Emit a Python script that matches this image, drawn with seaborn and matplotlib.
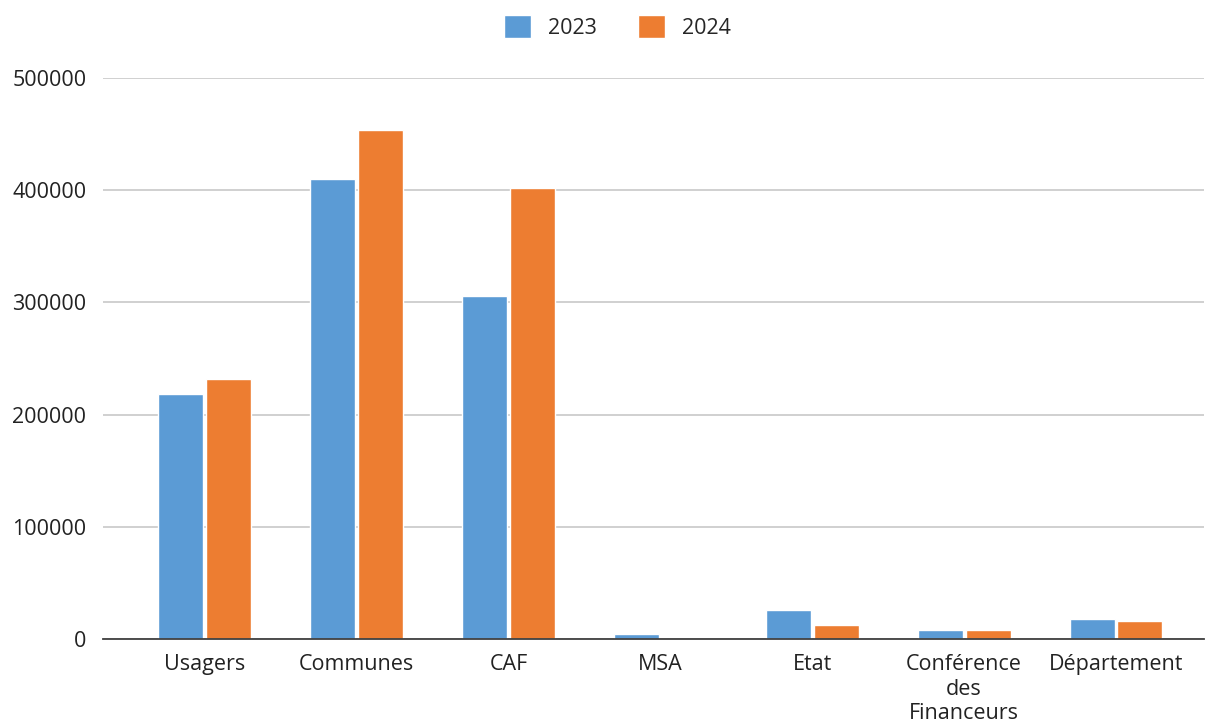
import numpy as np
import pandas as pd
import matplotlib
matplotlib.use('Agg')
import matplotlib.pyplot as plt
import seaborn as sns

categories = ['Usagers', 'Communes', 'CAF', 'MSA', 'Etat', 'Conférence\ndes\nFinanceurs', 'Département']
values_2023 = [218000, 409500, 306000, 4500, 25800, 8000, 17800]
values_2024 = [232000, 453500, 402000, 0, 12500, 8000, 16000]
years = ['2023', '2024']

df = pd.DataFrame({
    'cat': categories * 2,
    'year': [years[0]] * len(categories) + [years[1]] * len(categories),
    'val': values_2023 + values_2024,
})

sns.set_style('white')
plt.rcParams['font.family'] = ['Open Sans', 'DejaVu Sans']

fig = plt.figure(figsize=(12.06, 7.27), dpi=100)
ax = fig.add_axes([0.0854, 0.121, 0.913, 0.772])

sns.barplot(data=df, x='cat', y='val', hue='year', order=categories,
            palette=['#5B9BD5', '#ED7D31'], width=0.63, gap=0.06,
            saturation=1, ax=ax, zorder=3)

ax.set_ylim(0, 500000)
ax.set_xlim(-0.67, 6.58)
ax.set_yticks([0, 100000, 200000, 300000, 400000, 500000])
ax.yaxis.grid(True, color='#c8c8c8', linewidth=1.2, zorder=0)
ax.set_xlabel('')
ax.set_ylabel('')
for s in ['top', 'right', 'left']:
    ax.spines[s].set_visible(False)
ax.spines['bottom'].set_color('#404040')
ax.spines['bottom'].set_linewidth(1.3)
ax.spines['bottom'].set_zorder(4)
ax.tick_params(axis='both', length=0, labelsize=15.5, colors='#222222')
ax.tick_params(axis='y', pad=12)
ax.tick_params(axis='x', pad=11)
for t in ax.get_xticklabels():
    t.set_linespacing(1.2)
    t.set_verticalalignment('top')

ax.legend(loc='center', bbox_to_anchor=(0.467, 1.09), ncol=2, frameon=False,
          fontsize=15.5, handlelength=1.25, handleheight=1.25, columnspacing=1.9,
          handletextpad=0.8)

fig.savefig('out.png', dpi=100)
